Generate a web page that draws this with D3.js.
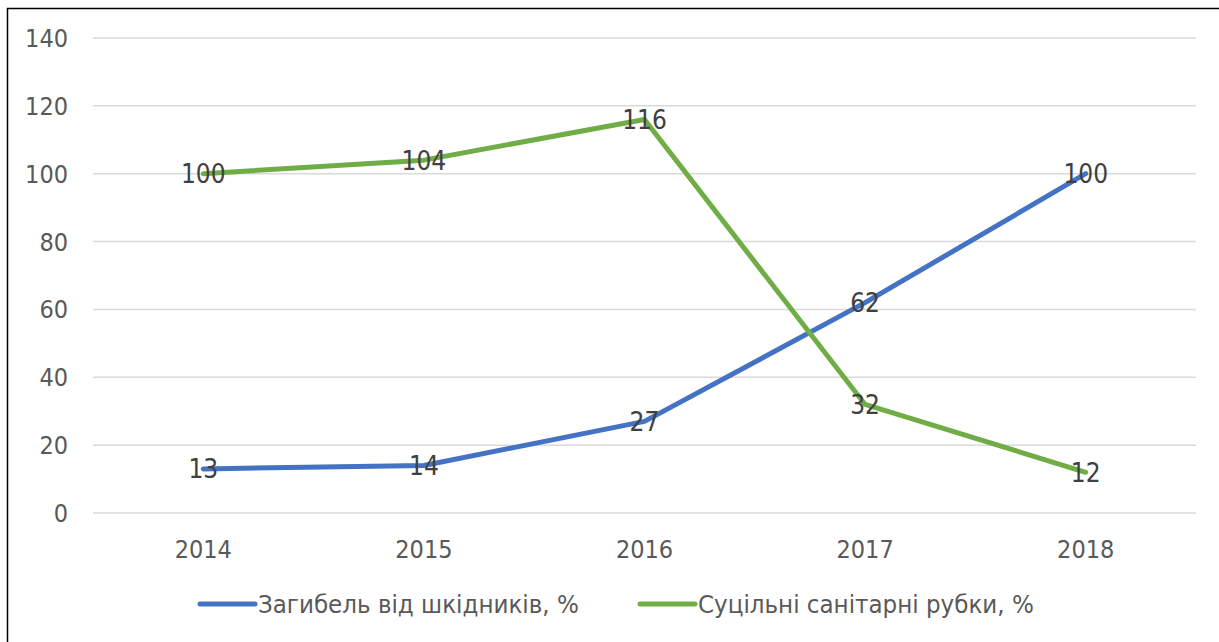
<!DOCTYPE html>
<html>
<head>
<meta charset="utf-8">
<script src="https://cdn.jsdelivr.net/npm/d3@7"></script>
<style>
  body { margin: 0; background: #fff; }
  svg text { font-family: "DejaVu Sans Condensed", "DejaVu Sans", sans-serif; }
</style>
</head>
<body>
<div id="chart"></div>
<script>
// chart data
let years = ["2014", "2015", "2016", "2017", "2018"];
let pestDeaths = [13, 14, 27, 62, 100];
let sanitaryFelling = [100, 104, 116, 32, 12];
let yTicks = [0, 20, 40, 60, 80, 100, 120, 140];
let seriesNames = ["Загибель від шкідників, %", "Суцільні санітарні рубки, %"];
let seriesColors = ["#4472C4", "#70AD47"];

let width = 1219;
let height = 642;
let margin = {left: 93, right: 1196, top: 38, bottom: 513};

let svg = d3.select("#chart").append("svg")
    .attr("width", width)
    .attr("height", height);

// outer frame
svg.append("rect")
    .attr("x", 7.5)
    .attr("y", 8.5)
    .attr("width", 1230)
    .attr("height", 660)
    .attr("fill", "none")
    .attr("stroke", "#000")
    .attr("stroke-width", 1.5);

let x = d3.scaleBand().domain(years).range([margin.left, margin.right]);
let y = d3.scaleLinear().domain([0, 140]).range([margin.bottom, margin.top]);

// gridlines
svg.append("g")
    .selectAll("line")
    .data(yTicks)
    .enter().append("line")
    .attr("x1", margin.left)
    .attr("x2", margin.right)
    .attr("y1", d => y(d))
    .attr("y2", d => y(d))
    .attr("stroke", "#d9d9d9")
    .attr("stroke-width", 1.5);

// y axis labels
svg.append("g")
    .selectAll("text")
    .data(yTicks)
    .enter().append("text")
    .attr("x", 68)
    .attr("y", d => y(d))
    .attr("dy", "0.36em")
    .attr("text-anchor", "end")
    .attr("font-size", 25)
    .attr("fill", "#595959")
    .text(d => d);

// x axis labels
svg.append("g")
    .selectAll("text")
    .data(years)
    .enter().append("text")
    .attr("x", d => x(d) + x.bandwidth() / 2)
    .attr("y", 549)
    .attr("dy", "0.36em")
    .attr("text-anchor", "middle")
    .attr("font-size", 25)
    .attr("fill", "#595959")
    .text(d => d);

let line = d3.line()
    .x((d, i) => x(years[i]) + x.bandwidth() / 2)
    .y(d => y(d));

let allSeries = [pestDeaths, sanitaryFelling];

allSeries.forEach((vals, k) => {
    svg.append("path")
        .attr("d", line(vals))
        .attr("fill", "none")
        .attr("stroke", seriesColors[k])
        .attr("stroke-width", 5)
        .attr("stroke-linecap", "round")
        .attr("stroke-linejoin", "round");
});

// data labels centered on points
allSeries.forEach((vals, k) => {
    svg.append("g")
        .selectAll("text")
        .data(vals)
        .enter().append("text")
        .attr("x", (d, i) => x(years[i]) + x.bandwidth() / 2)
        .attr("y", d => y(d))
        .attr("dy", "0.36em")
        .attr("text-anchor", "middle")
        .attr("font-size", 26)
        .attr("fill", "#404040")
        .text(d => d);
});

// legend
let legendX = [200, 640];
seriesNames.forEach((name, k) => {
    svg.append("line")
        .attr("x1", legendX[k])
        .attr("x2", legendX[k] + 55)
        .attr("y1", 604)
        .attr("y2", 604)
        .attr("stroke", seriesColors[k])
        .attr("stroke-width", 5)
        .attr("stroke-linecap", "round");
    svg.append("text")
        .attr("x", legendX[k] + 58)
        .attr("y", 604)
        .attr("dy", "0.36em")
        .attr("font-size", 25.6)
        .attr("fill", "#595959")
        .text(name);
});
</script>
</body>
</html>
